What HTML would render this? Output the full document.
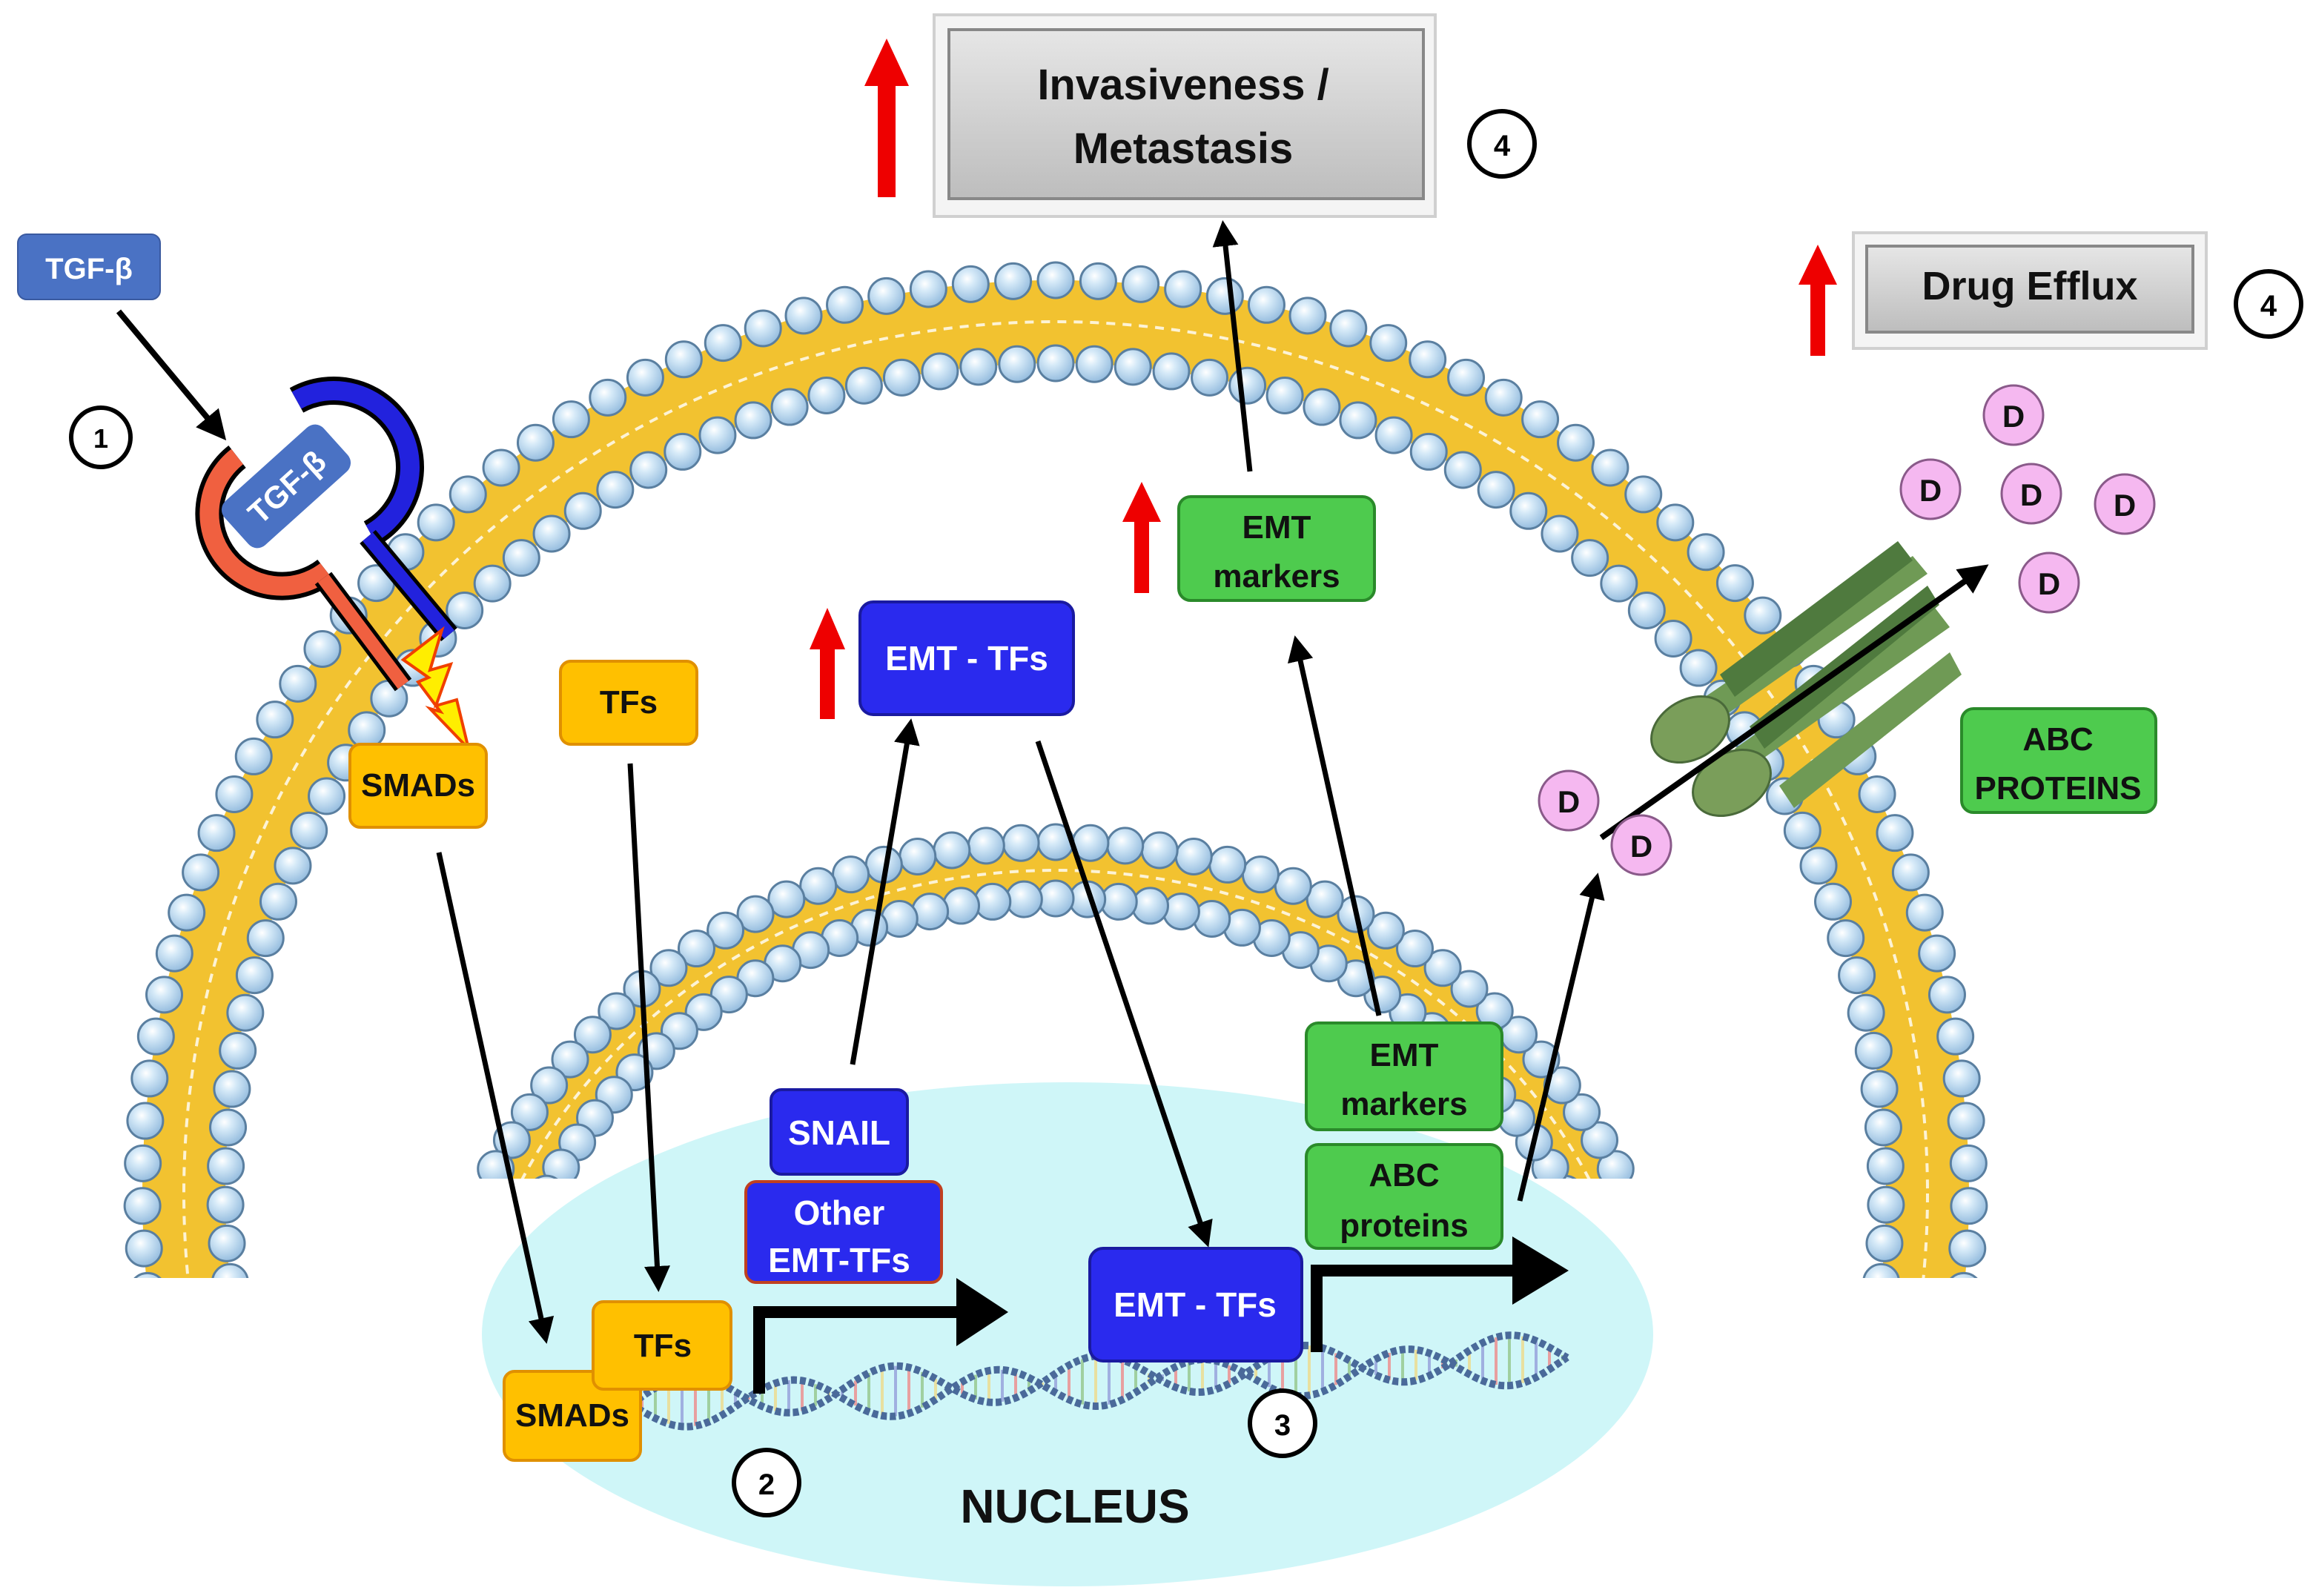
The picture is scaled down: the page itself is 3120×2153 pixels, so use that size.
<!DOCTYPE html>
<html><head><meta charset="utf-8"><style>
html,body{margin:0;padding:0;background:#fff;overflow:hidden;width:3120px;height:2153px;}
svg{display:block;}
text{font-family:"Liberation Sans",sans-serif;font-weight:bold;}
</style></head><body>
<svg id="s" width="3120" height="2153" viewBox="0 0 1560 1076.5" xmlns="http://www.w3.org/2000/svg">
<defs>
<marker id="ah" viewBox="0 0 10 10" refX="8" refY="5" markerWidth="5" markerHeight="5" orient="auto"><path d="M0,0 L10,5 L0,10 z" fill="#000"/></marker>
<radialGradient id="bead" cx="0.4" cy="0.35" r="0.7"><stop offset="0" stop-color="#ffffff"/><stop offset="0.3" stop-color="#d6eaf8"/><stop offset="1" stop-color="#8fb8dc"/></radialGradient>
<linearGradient id="gray" x1="0" y1="0" x2="0" y2="1"><stop offset="0" stop-color="#e6e6e6"/><stop offset="1" stop-color="#bdbdbd"/></linearGradient>
<clipPath id="c1"><rect x="0" y="0" width="1560" height="862"/></clipPath>
<clipPath id="c2"><rect x="0" y="0" width="1560" height="795"/></clipPath>
</defs>
<ellipse cx="720" cy="900" rx="395" ry="170" fill="#cff6f8"/>
<g id="mem1" clip-path="url(#c1)"></g>
<g id="mem2" clip-path="url(#c2)"></g>
<g id="dna"></g>

<rect x="12" y="158" width="96" height="44" rx="6" fill="#4a72c4" stroke="#3a5aa0"/>
<text x="60" y="188" font-size="20" fill="#fff" text-anchor="middle">TGF-β</text>
<line x1="80" y1="210" x2="150" y2="294" stroke="#000" stroke-width="4" marker-end="url(#ah)"/>
<circle cx="68" cy="295" r="20" fill="#fff" stroke="#000" stroke-width="3"/>
<text x="68" y="302" font-size="18" text-anchor="middle">1</text>
<!-- receptor -->
<g stroke-linecap="butt" fill="none">
<path d="M160,308 A46,46 0 1 0 220,385" stroke="#000" stroke-width="19"/>
<path d="M160,308 A46,46 0 1 0 220,385" stroke="#f06040" stroke-width="13"/>
<path d="M200,270 A42,42 0 1 1 250,360" stroke="#000" stroke-width="19"/>
<path d="M200,270 A42,42 0 1 1 250,360" stroke="#2222dd" stroke-width="13"/>
<line x1="218" y1="390" x2="272" y2="462" stroke="#000" stroke-width="14"/>
<line x1="218" y1="390" x2="272" y2="462" stroke="#f06040" stroke-width="9"/>
<line x1="248" y1="362" x2="303" y2="428" stroke="#000" stroke-width="14"/>
<line x1="248" y1="362" x2="303" y2="428" stroke="#2222dd" stroke-width="9"/>
</g>
<rect x="148" y="308" width="90" height="40" rx="8" fill="#4a72c4" transform="rotate(-42 193 328)"/>
<text x="193" y="336" font-size="21" fill="#fff" text-anchor="middle" transform="rotate(-42 193 328)" font-weight="normal">TGF-β</text>
<path d="M272,445 L298,425 L290,452 L304,448 L294,476 L308,472 L316,505 L290,478 L297,480 L282,460 L289,457 Z" fill="#ffee00" stroke="#f04000" stroke-width="2"/>

<g fill="#ffc000" stroke="#e09000" stroke-width="2">
<rect x="236" y="502" width="92" height="56" rx="7"/>
<rect x="378" y="446" width="92" height="56" rx="7"/>
<rect x="340" y="925" width="92" height="60" rx="7"/>
<rect x="400" y="878" width="93" height="59" rx="7"/>
</g>
<g font-size="22" text-anchor="middle" fill="#111">
<text x="282" y="537">SMADs</text>
<text x="424" y="481">TFs</text>
<text x="386" y="962">SMADs</text>
<text x="447" y="915">TFs</text>
</g>
<line x1="296" y1="575" x2="368" y2="903" stroke="#000" stroke-width="3.5" marker-end="url(#ah)"/>
<line x1="425" y1="515" x2="444" y2="868" stroke="#000" stroke-width="3.5" marker-end="url(#ah)"/>

<path d="M512,940 L512,885 L650,885" fill="none" stroke="#000" stroke-width="8"/>
<path d="M645,862 L680,885 L645,908 Z" fill="#000"/>
<path d="M888,912 L888,857 L1025,857" fill="none" stroke="#000" stroke-width="8"/>
<path d="M1020,834 L1058,857 L1020,880 Z" fill="#000"/>

<g fill="#2a2aee" stroke="#1a1aa0" stroke-width="2">
<rect x="520" y="735" width="92" height="57" rx="7"/>
<rect x="503" y="797" width="132" height="68" rx="7" stroke="#c04020"/>
<rect x="580" y="406" width="144" height="76" rx="9"/>
<rect x="735" y="842" width="143" height="76" rx="9"/>
</g>
<g font-size="23" fill="#fff" text-anchor="middle">
<text x="566" y="772">SNAIL</text>
<text x="566" y="826">Other</text>
<text x="566" y="858">EMT-TFs</text>
<text x="652" y="452">EMT - TFs</text>
<text x="806" y="888">EMT - TFs</text>
</g>
<line x1="575" y1="718" x2="614" y2="488" stroke="#000" stroke-width="3.5" marker-end="url(#ah)"/>
<line x1="700" y1="500" x2="814" y2="838" stroke="#000" stroke-width="3.5" marker-end="url(#ah)"/>

<g fill="#4ecb4e" stroke="#2a8a2a" stroke-width="2">
<rect x="881" y="690" width="132" height="72" rx="8"/>
<rect x="881" y="772" width="132" height="70" rx="8"/>
<rect x="795" y="335" width="132" height="70" rx="8"/>
<rect x="1323" y="478" width="131" height="70" rx="8"/>
</g>
<g font-size="22" fill="#111" text-anchor="middle">
<text x="947" y="719">EMT</text><text x="947" y="752">markers</text>
<text x="947" y="800">ABC</text><text x="947" y="834">proteins</text>
<text x="861" y="363">EMT</text><text x="861" y="396">markers</text>
<text x="1388" y="506">ABC</text><text x="1388" y="539">PROTEINS</text>
</g>
<line x1="930" y1="685" x2="874" y2="432" stroke="#000" stroke-width="3.5" marker-end="url(#ah)"/>
<line x1="1025" y1="810" x2="1077" y2="592" stroke="#000" stroke-width="3.5" marker-end="url(#ah)"/>

<g fill="#ee0000">
<path d="M553,485 L553,438 L546,438 L558,410 L570,438 L563,438 L563,485 Z"/>
<path d="M765,400 L765,352 L757,352 L770,325 L783,352 L775,352 L775,400 Z"/>
<path d="M592,133 L592,58 L583,58 L598,26 L613,58 L604,58 L604,133 Z"/>
<path d="M1221,240 L1221,192 L1213,192 L1226,165 L1239,192 L1231,192 L1231,240 Z"/>
</g>

<rect x="630" y="10" width="338" height="136" fill="#f4f4f4" stroke="#d0d0d0" stroke-width="2"/>
<rect x="640" y="20" width="320" height="114" fill="url(#gray)" stroke="#888" stroke-width="2"/>
<text x="798" y="67" font-size="29" text-anchor="middle" fill="#111">Invasiveness /</text>
<text x="798" y="110" font-size="29" text-anchor="middle" fill="#111">Metastasis</text>
<line x1="843" y1="318" x2="825" y2="152" stroke="#000" stroke-width="3.5" marker-end="url(#ah)"/>
<circle cx="1013" cy="97" r="22" fill="#fff" stroke="#000" stroke-width="3"/>
<text x="1013" y="105" font-size="20" text-anchor="middle">4</text>
<rect x="1250" y="157" width="238" height="78" fill="#f4f4f4" stroke="#d0d0d0" stroke-width="2"/>
<rect x="1259" y="166" width="220" height="58" fill="url(#gray)" stroke="#888" stroke-width="2"/>
<text x="1369" y="202" font-size="27" text-anchor="middle" fill="#111">Drug Efflux</text>
<circle cx="1530" cy="205" r="22" fill="#fff" stroke="#000" stroke-width="3"/>
<text x="1530" y="213" font-size="20" text-anchor="middle">4</text>

<g>
<g fill="#6f9a55" stroke="none">
<path d="M1150,470 L1290,375 L1300,387 L1160,485 Z"/>
<path d="M1160,455 L1280,365 L1290,378 L1170,470 Z" fill="#4f7a3e"/>
<path d="M1170,505 L1305,410 L1315,423 L1180,518 Z"/>
<path d="M1180,490 L1300,395 L1308,408 L1190,505 Z" fill="#4f7a3e"/>
<path d="M1200,530 L1315,440 L1323,455 L1210,545 Z"/>
</g>
<ellipse cx="1140" cy="492" rx="28" ry="20" transform="rotate(-30 1140 492)" fill="#7a9e5a" stroke="#4a6a3a" stroke-width="1.5"/>
<ellipse cx="1168" cy="528" rx="28" ry="20" transform="rotate(-30 1168 528)" fill="#7a9e5a" stroke="#4a6a3a" stroke-width="1.5"/>
</g>
<line x1="1080" y1="565" x2="1338" y2="383" stroke="#000" stroke-width="4" marker-end="url(#ah)"/>

<g id="ds" fill="#f5b8f0" stroke="#8a5a8a" stroke-width="1.5"></g>

<circle cx="517" cy="1000" r="22" fill="#fff" stroke="#000" stroke-width="3"/>
<text x="517" y="1008" font-size="20" text-anchor="middle">2</text>
<circle cx="865" cy="960" r="22" fill="#fff" stroke="#000" stroke-width="3"/>
<text x="865" y="968" font-size="20" text-anchor="middle">3</text>
<text x="725" y="1027" font-size="32" text-anchor="middle" fill="#111">NUCLEUS</text>
</svg>
<script>
var NS="http://www.w3.org/2000/svg";
function el(p,t,a){var e=document.createElementNS(NS,t);for(var k in a)e.setAttribute(k,a[k]);p.appendChild(e);return e;}
function membrane(g,cx,cy,rxo,ryo,rxi,ryi,n,a0,a1){
  var rxm=(rxo+rxi)/2, rym=(ryo+ryi)/2, w=(rxo-rxi);
  el(g,"ellipse",{cx:cx,cy:cy,rx:rxm,ry:rym,fill:"none",stroke:"#f2c230","stroke-width":w});
  el(g,"ellipse",{cx:cx,cy:cy,rx:rxm,ry:rym,fill:"none",stroke:"#fff","stroke-width":2,"stroke-dasharray":"6 5",opacity:0.8});
  for(var i=0;i<=n;i++){
    var a=a0+(a1-a0)*i/n;
    [[rxo,ryo],[rxi,ryi]].forEach(function(r){
      var x=cx+r[0]*Math.cos(a), y=cy-r[1]*Math.sin(a);
      el(g,"circle",{cx:x,cy:y,r:12,fill:"url(#bead)",stroke:"#5a7fa0","stroke-width":1.5});
    });
  }
}
membrane(document.getElementById("mem1"),712,805,616,616,560,560,76,-0.2,Math.PI+0.2);
membrane(document.getElementById("mem2"),712,960,420,392,382,354,58,-0.05,Math.PI+0.05);
var dna=document.getElementById("dna");
var p1="",p2="";
for(var x=430;x<=1058;x+=3){
  var base=950-(x-430)*0.05;
  var y1=base+14*Math.sin((x-430)/22), y2=base-14*Math.sin((x-430)/22)-6;
  p1+=(x==430?"M":"L")+x+","+y1; p2+=(x==430?"M":"L")+x+","+y2;
  if(x%9==1) el(dna,"line",{x1:x,y1:y1,x2:x,y2:y2,stroke:["#e8a0a0","#a0d0a0","#e8e0a0","#a0b0e0"][(x/9|0)%4],"stroke-width":2});
}
el(dna,"path",{d:p1,fill:"none",stroke:"#4a6a9a","stroke-width":5,"stroke-dasharray":"4 2"});
el(dna,"path",{d:p2,fill:"none",stroke:"#4a6a9a","stroke-width":5,"stroke-dasharray":"4 2"});
var ds=document.getElementById("ds");
[[1058,540],[1107,570],[1358,280],[1302,330],[1370,333],[1433,340],[1382,393]].forEach(function(c){
  el(ds,"circle",{cx:c[0],cy:c[1],r:20});
  var t=el(ds,"text",{x:c[0],y:c[1]+8,"font-size":21,"text-anchor":"middle",fill:"#111",stroke:"none"});t.textContent="D";
});
</script>
</body></html>
